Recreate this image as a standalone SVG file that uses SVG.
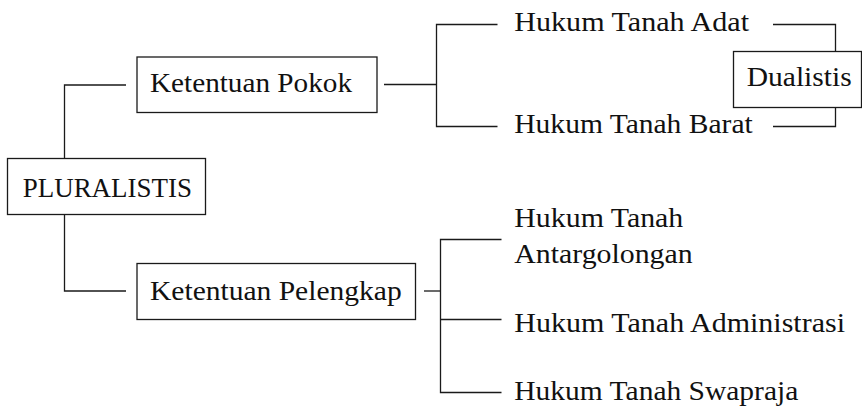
<svg xmlns="http://www.w3.org/2000/svg" width="862" height="406" viewBox="0 0 862 406">
  <style>
    .box { fill: #ffffff; stroke: #1a1a1a; stroke-width: 1.3; }
    .wire { fill: none; stroke: #1a1a1a; stroke-width: 1.3; }
    .lbl { font-family: "Liberation Serif", "DejaVu Serif", serif; font-size: 26.5px; fill: #111111; }
  </style>
  <rect width="862" height="406" fill="#ffffff"/>

  <!-- connectors -->
  <g id="connectors">
    <path class="wire" d="M126,85 H64.5 V158.5"/>
    <path class="wire" d="M64.5,214.5 V291 H126"/>
    <path class="wire" d="M384,84.5 H436.5"/>
    <path class="wire" d="M497.5,24.5 H436.5 V126.5 H497.5"/>
    <path class="wire" d="M773,24.5 H835.5 V51.5"/>
    <path class="wire" d="M773,126.5 H835.5 V107.5"/>
    <path class="wire" d="M424,291 H440.5"/>
    <path class="wire" d="M501.5,239.5 H440.5 V392.5 H501.5"/>
    <path class="wire" d="M440.5,319.5 H501.5"/>
  </g>

  <!-- nodes -->
  <g id="pluralistis">
    <rect class="box" x="7.5" y="158.5" width="198" height="56"/>
    <text class="lbl" x="22.7" y="196.7" textLength="169.3" lengthAdjust="spacingAndGlyphs">PLURALISTIS</text>
  </g>
  <g id="ketentuan-pokok">
    <rect class="box" x="137" y="57" width="240" height="55.5"/>
    <text class="lbl" x="150" y="92.3" textLength="202" lengthAdjust="spacingAndGlyphs">Ketentuan Pokok</text>
  </g>
  <g id="ketentuan-pelengkap">
    <rect class="box" x="137" y="263.5" width="278.5" height="56"/>
    <text class="lbl" x="150" y="299.5" textLength="251.7" lengthAdjust="spacingAndGlyphs">Ketentuan Pelengkap</text>
  </g>
  <g id="hukum-adat">
    <text class="lbl" x="514.3" y="30.7" textLength="234.7" lengthAdjust="spacingAndGlyphs">Hukum Tanah Adat</text>
  </g>
  <g id="hukum-barat">
    <text class="lbl" x="514.3" y="133.3" textLength="238.4" lengthAdjust="spacingAndGlyphs">Hukum Tanah Barat</text>
  </g>
  <g id="dualistis">
    <rect class="box" x="733.5" y="51.5" width="128" height="56"/>
    <text class="lbl" x="746.7" y="86" textLength="105" lengthAdjust="spacingAndGlyphs">Dualistis</text>
  </g>
  <g id="hukum-antargolongan">
    <text class="lbl" x="514.3" y="226.7" textLength="169" lengthAdjust="spacingAndGlyphs">Hukum Tanah</text>
    <text class="lbl" x="514.3" y="263.3" textLength="178.4" lengthAdjust="spacingAndGlyphs">Antargolongan</text>
  </g>
  <g id="hukum-administrasi">
    <text class="lbl" x="514.3" y="331.7" textLength="330.7" lengthAdjust="spacingAndGlyphs">Hukum Tanah Administrasi</text>
  </g>
  <g id="hukum-swapraja">
    <text class="lbl" x="514.3" y="400" textLength="284" lengthAdjust="spacingAndGlyphs">Hukum Tanah Swapraja</text>
  </g>
</svg>
